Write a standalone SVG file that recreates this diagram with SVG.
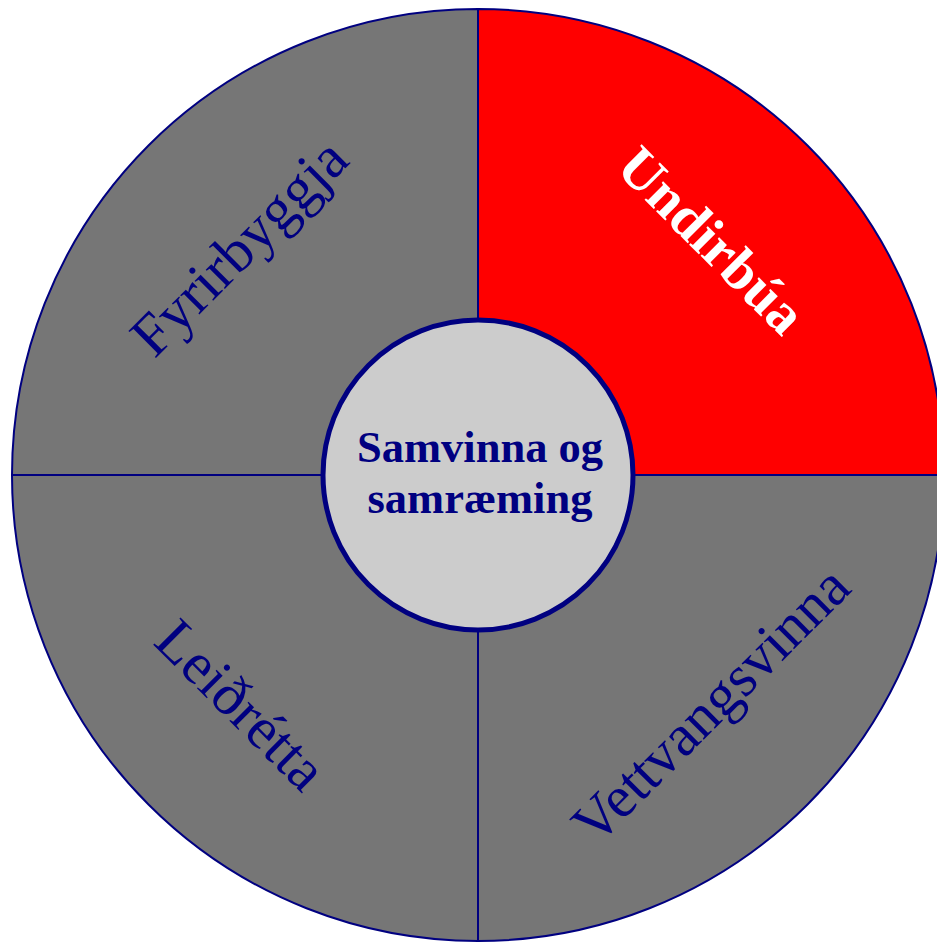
<svg xmlns="http://www.w3.org/2000/svg" width="937" height="942" viewBox="0 0 937 942">
  <style>
    .wedge { fill: #767676; stroke: #000080; stroke-width: 2; stroke-linejoin: round; }
    .active { fill: #ff0000; }
    .lbl { font-family: "Liberation Serif", "Times New Roman", serif; font-size: 59px; fill: #000080; text-anchor: middle; }
    .lbl-active { font-weight: bold; fill: #ffffff; font-size: 57px; }
    .hub { fill: #cccccc; stroke: #000080; stroke-width: 5; }
    .hub-text { font-family: "Liberation Serif", "Times New Roman", serif; font-size: 44.5px; font-weight: bold; fill: #000080; text-anchor: middle; }
  </style>
  <rect width="937" height="942" fill="#ffffff"/>
  <g id="undirbua">
    <path class="wedge active" d="M478,475 L478,9 A466,466 0 0 1 944,475 Z"/>
    <text class="lbl lbl-active" transform="translate(711,241) rotate(45)" x="0" y="18">Undirbúa</text>
  </g>
  <g id="vettvangsvinna">
    <path class="wedge" d="M478,475 L944,475 A466,466 0 0 1 478,941 Z"/>
    <text class="lbl" transform="translate(712,706) rotate(-45)" x="0" y="18">Vettvangsvinna</text>
  </g>
  <g id="leidretta">
    <path class="wedge" d="M478,475 L478,941 A466,466 0 0 1 12,475 Z"/>
    <text class="lbl" transform="translate(240,706) rotate(45)" x="0" y="18">Leiðrétta</text>
  </g>
  <g id="fyrirbyggja">
    <path class="wedge" d="M478,475 L12,475 A466,466 0 0 1 478,9 Z"/>
    <text class="lbl" transform="translate(243,251) rotate(-45)" x="0" y="14">Fyrirbyggja</text>
  </g>
  <g id="connectors"></g>
  <g id="samvinna">
    <circle class="hub" cx="478" cy="475" r="155"/>
    <text class="hub-text" x="480" y="462">Samvinna og</text>
    <text class="hub-text" x="480" y="513">samræming</text>
  </g>
</svg>
